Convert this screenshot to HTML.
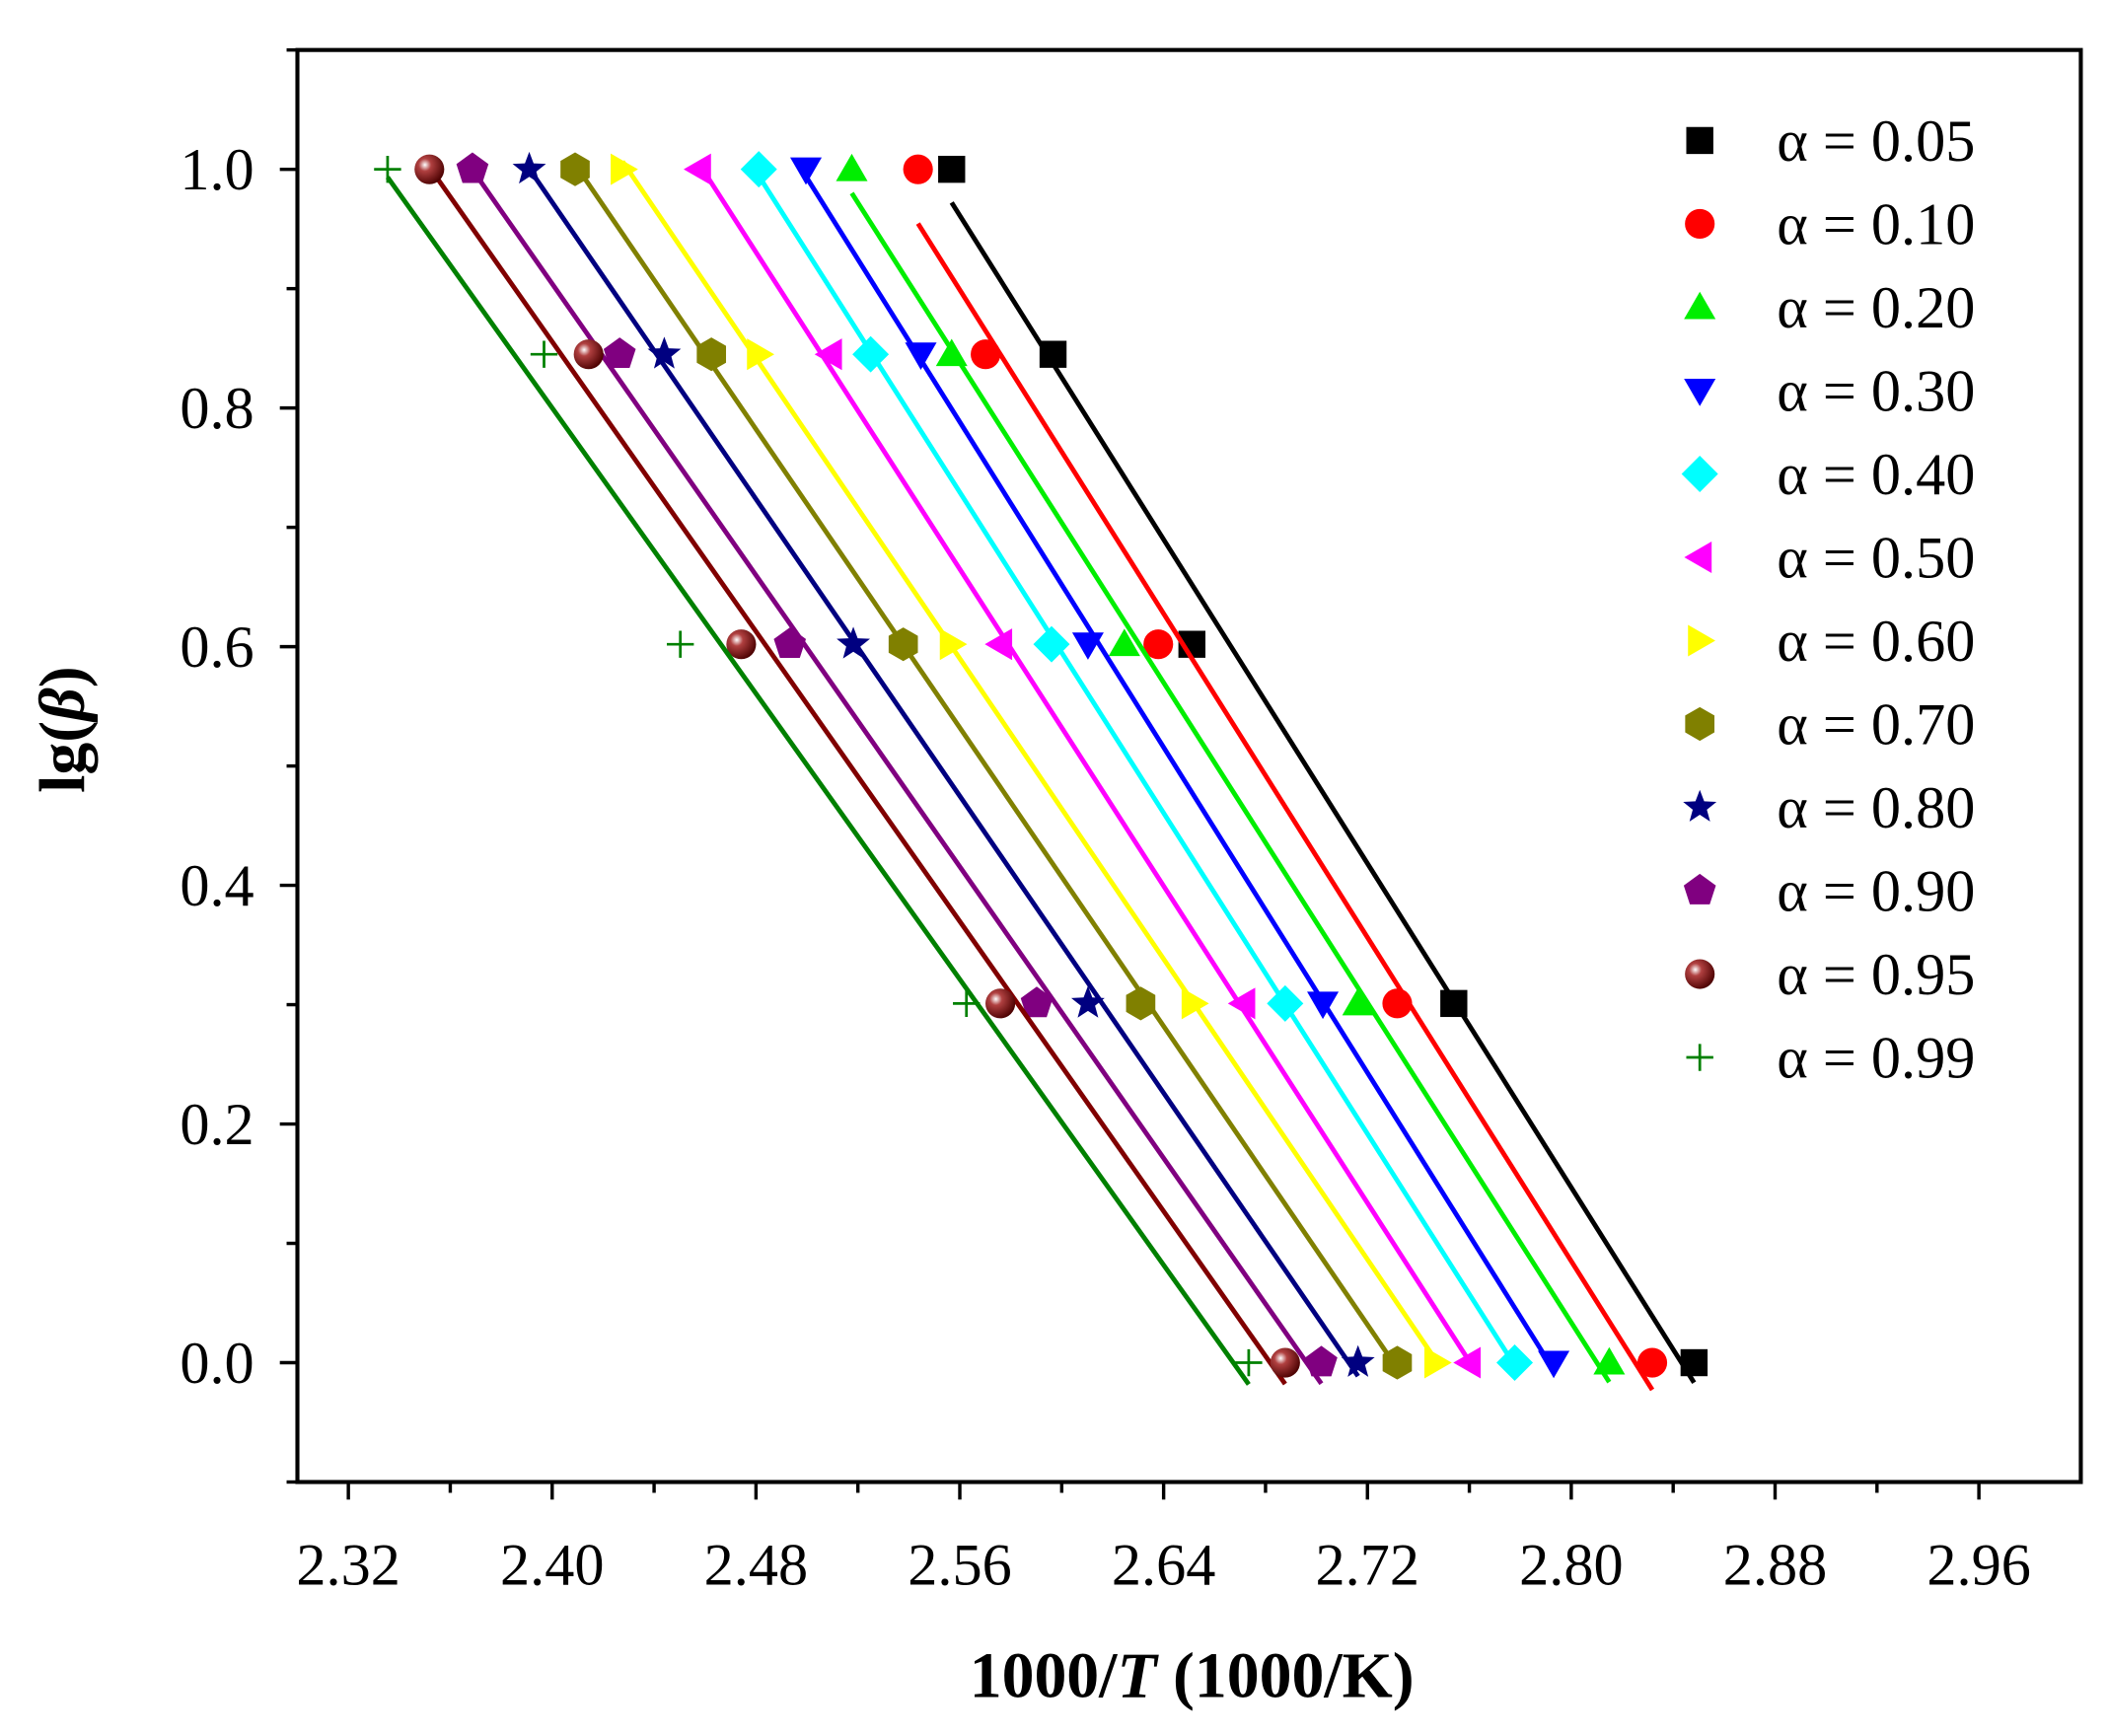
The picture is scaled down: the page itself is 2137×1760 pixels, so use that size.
<!DOCTYPE html>
<html><head><meta charset="utf-8"><style>
html,body{margin:0;padding:0;background:#fff;}
svg{display:block;}
text{font-family:"Liberation Serif",serif;fill:#000;}
</style></head><body>
<svg id="chart" width="2137" height="1760" viewBox="0 0 1560 1285" xmlns="http://www.w3.org/2000/svg">
<defs>
<radialGradient id="ball" cx="0.35" cy="0.35" r="0.7"><stop offset="0" stop-color="#fff"/><stop offset="0.3" stop-color="#b04040"/><stop offset="1" stop-color="#4a0000"/></radialGradient>
</defs>
<g id="plot"></g>
</svg>
<script>
const lgBeta = [1.0, 0.845, 0.602, 0.301, 0.0];
const seriesLabels = ["α = 0.05","α = 0.10","α = 0.20","α = 0.30","α = 0.40","α = 0.50","α = 0.60","α = 0.70","α = 0.80","α = 0.90","α = 0.95","α = 0.99"];
const s005 = [2.5568, 2.5966, 2.6511, 2.7539, 2.8482];
const s010 = [2.5436, 2.5701, 2.6379, 2.7317, 2.8318];
const s020 = [2.5176, 2.5568, 2.6246, 2.7163, 2.8149];
const s030 = [2.4996, 2.5447, 2.6103, 2.7025, 2.7931];
const s040 = [2.4811, 2.5250, 2.5960, 2.6877, 2.7778];
const s050 = [2.4577, 2.5091, 2.5759, 2.6713, 2.7598];
const s060 = [2.4276, 2.4811, 2.5568, 2.6517, 2.7470];
const s070 = [2.4090, 2.4625, 2.5378, 2.6310, 2.7317];
const s080 = [2.3910, 2.4440, 2.5182, 2.6103, 2.7163];
const s090 = [2.3687, 2.4265, 2.4933, 2.5902, 2.7019];
const s095 = [2.3518, 2.4143, 2.4742, 2.5759, 2.6877];
const s099 = [2.3354, 2.3968, 2.4503, 2.5626, 2.6734];
const xTicks = ["2.32","2.40","2.48","2.56","2.64","2.72","2.80","2.88","2.96"];
const yTicks = ["0.0","0.2","0.4","0.6","0.8","1.0"];

const allSeries=[s005,s010,s020,s030,s040,s050,s060,s070,s080,s090,s095,s099];
const colors=["#000","#ff0000","#00ee00","#0000ff","#00ffff","#ff00ff","#ffff00","#808000","#000080","#800080","#800000","#008000"];
const shapes=["square","circle","tri-up","tri-down","diamond","tri-left","tri-right","hexagon","star","pentagon","ball","plus"];
const L=220,T=37,R=1540,B=1097, X0=2.30,X1=3.00,Y0=-0.1,Y1=1.1;
const xs=v=>L+(v-X0)/(X1-X0)*(R-L);
const ys=v=>B-(v-Y0)/(Y1-Y0)*(B-T);
const NS="http://www.w3.org/2000/svg";
const g=document.getElementById('plot');
function mk(tag,at,parent){const e=document.createElementNS(NS,tag);for(const k in at)e.setAttribute(k,at[k]);(parent||g).appendChild(e);return e;}
function poly(n,r,rot,cx,cy){let p=[];for(let i=0;i<n;i++){const a=rot+i*2*Math.PI/n;p.push((cx+r*Math.cos(a)).toFixed(2)+","+(cy+r*Math.sin(a)).toFixed(2));}return p.join(" ");}
function marker(shape,color,cx,cy,parent){
  let e;const r=12.5;
  if(shape=="square")e=mk('rect',{x:cx-10,y:cy-10,width:20,height:20,fill:color},parent);
  else if(shape=="circle")e=mk('circle',{cx:cx,cy:cy,r:11,fill:color},parent);
  else if(shape=="tri-up")e=mk('polygon',{points:poly(3,r+1,-Math.PI/2,cx,cy+2),fill:color},parent);
  else if(shape=="tri-down")e=mk('polygon',{points:poly(3,r+1,Math.PI/2,cx,cy-2),fill:color},parent);
  else if(shape=="tri-left")e=mk('polygon',{points:poly(3,r+1,Math.PI,cx+2,cy),fill:color},parent);
  else if(shape=="tri-right")e=mk('polygon',{points:poly(3,r+1,0,cx-2,cy),fill:color},parent);
  else if(shape=="diamond")e=mk('polygon',{points:poly(4,r+1,0,cx,cy),fill:color},parent);
  else if(shape=="hexagon")e=mk('polygon',{points:poly(6,r,-Math.PI/2,cx,cy),fill:color},parent);
  else if(shape=="pentagon")e=mk('polygon',{points:poly(5,r,-Math.PI/2,cx,cy),fill:color},parent);
  else if(shape=="star"){let p=[];for(let i=0;i<10;i++){const a=-Math.PI/2+i*Math.PI/5,rr=i%2?5.5:13;p.push((cx+rr*Math.cos(a)).toFixed(2)+","+(cy+rr*Math.sin(a)).toFixed(2));}e=mk('polygon',{points:p.join(" "),fill:color},parent);}
  else if(shape=="ball")e=mk('circle',{cx:cx,cy:cy,r:11,fill:"url(#ball)"},parent);
  else if(shape=="plus")e=mk('path',{d:`M${cx-10},${cy}H${cx+10}M${cx},${cy-10}V${cy+10}`,stroke:color,'stroke-width':2,fill:"none"},parent);
  return e;
}
const fr=mk('rect',{x:L,y:T,width:R-L,height:B-T,fill:"none",stroke:"#000","stroke-width":3});


for(let i=0;i<=16;i++){const v=2.32+i*0.04;if(v>X1+0.001)break;const x=xs(v);const major=(i%2==0);
  mk('line',{x1:x,y1:B,x2:x,y2:B+(major?13:8),stroke:"#000","stroke-width":2.5});}
xTicks.forEach(t=>{const e=mk('text',{x:xs(parseFloat(t)),y:1173,'font-size':44,'text-anchor':'middle'});e.textContent=t;
  
  });
for(let i=0;i<=12;i++){const v=-0.1+i*0.1;const y=ys(v);const major=(i%2==1);
  mk('line',{x1:L,y1:y,x2:L-(major?13:8),y2:y,stroke:"#000","stroke-width":2.5});}
yTicks.forEach(t=>{const e=mk('text',{x:188,y:ys(parseFloat(t))+15,'font-size':44,'text-anchor':'end'});e.textContent=t;
  
  });
const xt=mk('text',{x:882,y:1256,'font-size':48,'font-weight':'bold','text-anchor':'middle'});
xt.innerHTML='1000/<tspan font-style="italic">T</tspan> (1000/K)';


const yt=mk('text',{x:0,y:0,'font-size':48,'font-weight':'bold','text-anchor':'middle',transform:'translate(62,540) rotate(-90)'});
yt.innerHTML='lg(<tspan font-style="italic">β</tspan>)';


allSeries.forEach((s,k)=>{
  const n=s.length;let mx=0,my=0;for(let i=0;i<n;i++){mx+=s[i];my+=lgBeta[i];}mx/=n;my/=n;
  let sxy=0,sxx=0;for(let i=0;i<n;i++){sxy+=(s[i]-mx)*(lgBeta[i]-my);sxx+=(s[i]-mx)**2;}
  const b=sxy/sxx,a=my-b*mx;const xa=Math.min(...s),xb=Math.max(...s);
  const ln=mk('line',{x1:xs(xa),y1:ys(a+b*xa),x2:xs(xb),y2:ys(a+b*xb),stroke:colors[k],"stroke-width":3.5});
  
  
  s.forEach((v,i)=>{const m=marker(shapes[k],colors[k],xs(v),ys(lgBeta[i]));
    
    });
});
const lg=mk('g',{});


seriesLabels.forEach((lab,k)=>{const y=104+k*61.7;
  const m=marker(shapes[k],colors[k],1258,y,lg);
  
  
  const t=mk('text',{x:1315,y:y+15,'font-size':44},lg);t.textContent=lab;
  
  });
</script>
</body></html>
